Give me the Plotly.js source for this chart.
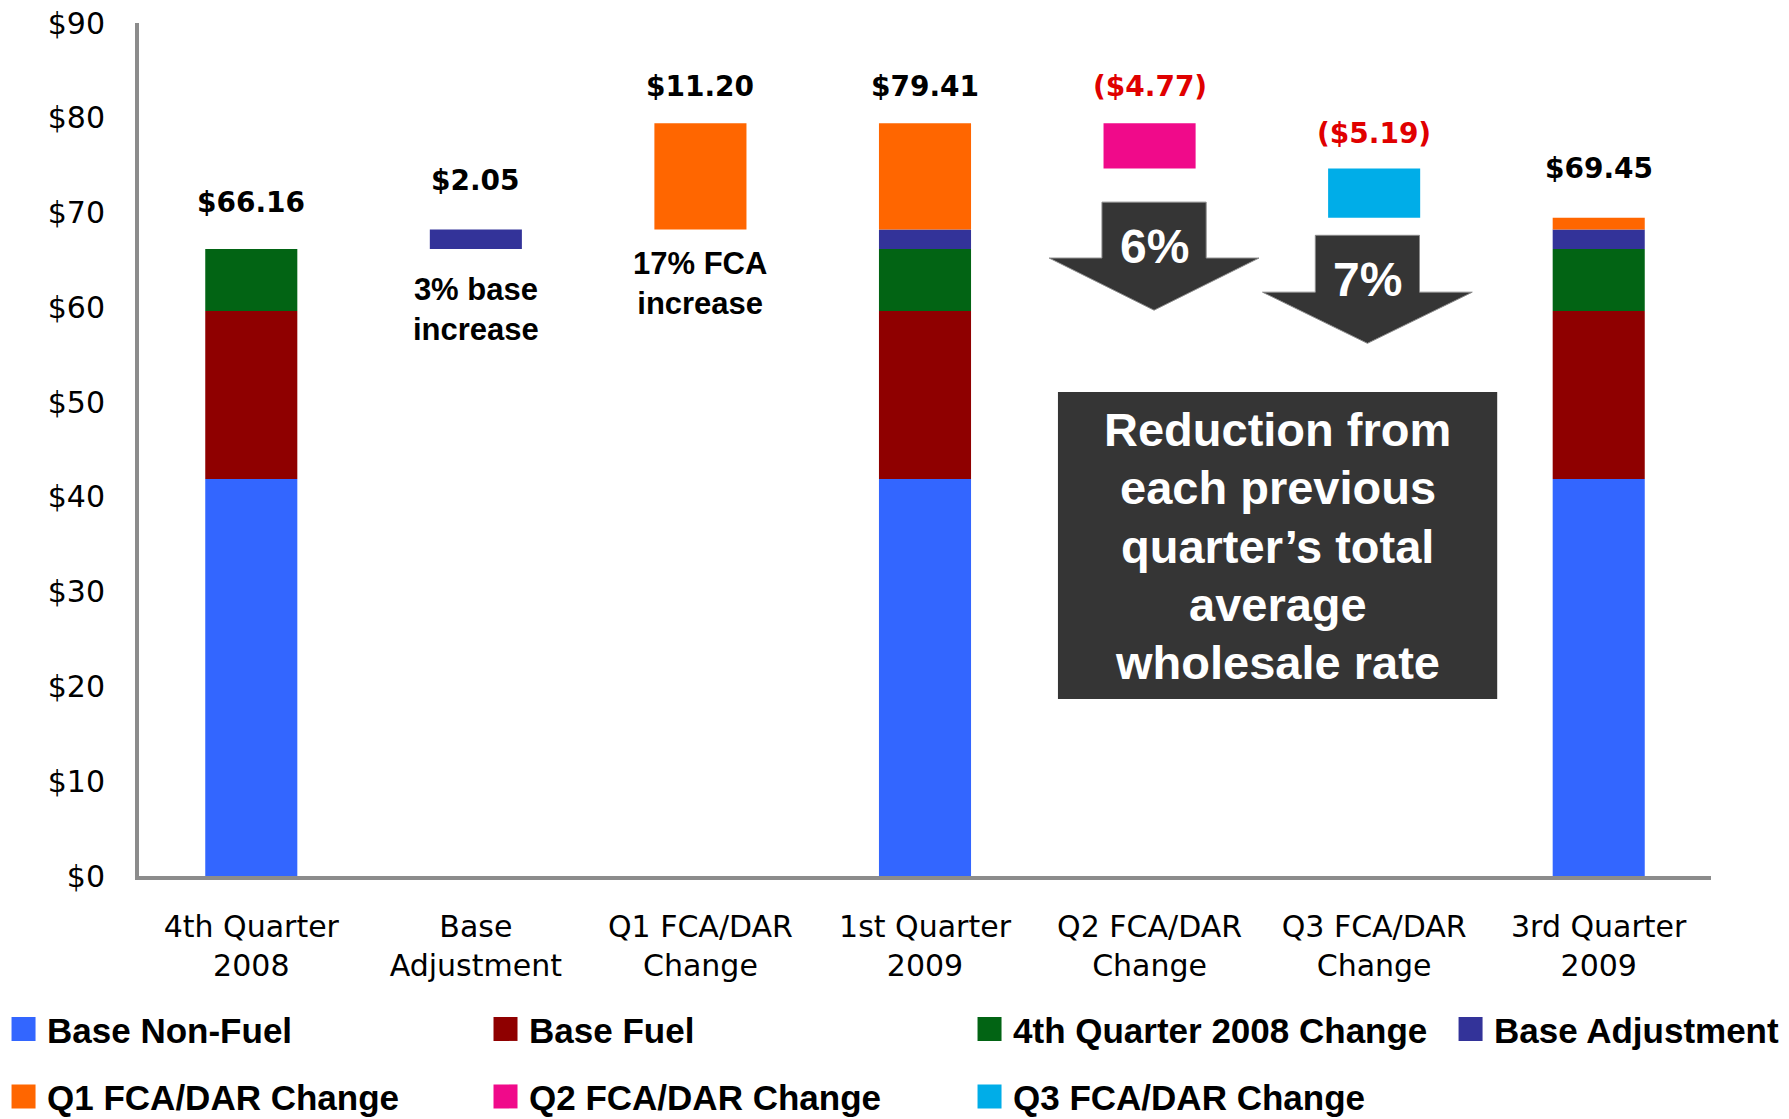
<!DOCTYPE html>
<html><head><meta charset="utf-8">
<script src="https://cdn.plot.ly/plotly-3.0.1.min.js"></script>
<style>
html,body{margin:0;padding:0;background:#fff;}
#chart{width:1789px;height:1119px;}
g.legendpoints path{transform:translate(23.5px,0px) scale(2) !important;}
</style></head><body><div id="chart"></div>
<script>
// ---- data ----
const categories = ["4th Quarter 2008", "Base Adjustment", "Q1 FCA/DAR Change", "1st Quarter 2009", "Q2 FCA/DAR Change", "Q3 FCA/DAR Change", "3rd Quarter 2009"];
const tickLabels = ["4th Quarter<br>2008", "Base<br>Adjustment", "Q1 FCA/DAR<br>Change", "1st Quarter<br>2009", "Q2 FCA/DAR<br>Change", "Q3 FCA/DAR<br>Change", "3rd Quarter<br>2009"];
const isTotal = [true, false, false, true, false, false, true];
const seriesNames = ["Base Non-Fuel", "Base Fuel", "4th Quarter 2008 Change", "Base Adjustment", "Q1 FCA/DAR Change", "Q2 FCA/DAR Change", "Q3 FCA/DAR Change"];
const baseNonFuel = [41.9, null, null, 41.9, null, null, 41.9];
const baseFuel    = [17.7, null, null, 17.7, null, null, 17.7];
const q4Change    = [6.56, null, null, 6.56, null, null, 6.56];
const baseAdj     = [null, 2.05, null, 2.05, null, null, 2.05];
const q1Fca       = [null, null, 11.20, 11.20, null, null, 1.24];
const q2Fca       = [null, null, null, null, -4.77, null, null];
const q3Fca       = [null, null, null, null, null, -5.19, null];
const seriesColors = ["#3366FF", "#8F0000", "#026414", "#333399", "#FF6600", "#F00A8A", "#00ADE8"];
const noteBase = "3% base<br>increase";
const noteFca = "17% FCA<br>increase";
const pctQ2 = "6%", pctQ3 = "7%";
const boxLines = ["Reduction from", "each previous", "quarter\u2019s total", "average", "wholesale rate"];

const series = [baseNonFuel, baseFuel, q4Change, baseAdj, q1Fca, q2Fca, q3Fca];
const legendOf = ["legend", "legend2", "legend3", "legend4", "legend", "legend2", "legend3"];
const xs = categories.map((c, i) => i);

// compute bases (waterfall / stacked)
const bases = series.map(() => categories.map(() => null));
const tops = [], deltas = [], ends = [];
let prevEnd = 0;
categories.forEach((c, i) => {
  let cursor = isTotal[i] ? 0 : prevEnd;
  const start = cursor;
  series.forEach((s, k) => {
    if (s[i] !== null) { bases[k][i] = cursor; cursor += s[i]; }
  });
  ends.push(cursor);
  deltas.push(cursor - start);
  tops.push(Math.max(start, cursor));
  prevEnd = cursor;
});

const traces = series.map((s, k) => ({
  type: "bar", x: xs, y: s, base: bases[k], width: 0.41,
  name: seriesNames[k], marker: {color: seriesColors[k], line: {width: 0}},
  legend: legendOf[k], legendgroup: seriesNames[k], hoverinfo: "skip"
}));

function fmt(v) {
  const a = "$" + Math.abs(v).toFixed(2);
  return v < 0 ? "(" + a + ")" : a;
}
const labelShift = [46, 49, 37, 37, 37, 35, 49];
const annotations = categories.map((c, i) => {
  const val = isTotal[i] ? ends[i] : deltas[i];
  return {
    x: i, y: tops[i], xref: "x", yref: "y", text: fmt(val), showarrow: false,
    yanchor: "middle", yshift: labelShift[i],
    font: {family: "DejaVu Sans", size: 28, weight: "bold", color: val < 0 ? "#E00000" : "#000000"}
  };
});
const noteFont = {family: "Liberation Sans, Arial", size: 31, weight: "bold", color: "#000"};
annotations.push({x: 1, y: 59.8, xref: "x", yref: "y", text: noteBase, showarrow: false, font: noteFont});
annotations.push({x: 2, y: 62.5, xref: "x", yref: "y", text: noteFca, showarrow: false, font: noteFont});
const whiteBig = {family: "Liberation Sans, Arial", size: 48, weight: "bold", color: "#fff"};
annotations.push({x: 4.02, y: 66.4, xref: "x", yref: "y", text: pctQ2, showarrow: false, font: whiteBig});
annotations.push({x: 4.97, y: 62.9, xref: "x", yref: "y", text: pctQ3, showarrow: false, font: whiteBig});
boxLines.forEach((t, j) => {
  annotations.push({x: 4.57, y: 34.8 + (2 - j) * 6.15, xref: "x", yref: "y", text: t, showarrow: false,
    yanchor: "middle", font: {family: "Liberation Sans, Arial", size: 47, weight: "bold", color: "#fff"}});
});

function arrowPath(cx, yTop, yShoulder, yTip) {
  const sh = 0.232, hh = 0.467;
  return `M${cx - sh},${yTop} L${cx + sh},${yTop} L${cx + sh},${yShoulder} L${cx + hh},${yShoulder} L${cx},${yTip} L${cx - hh},${yShoulder} L${cx - sh},${yShoulder} Z`;
}
const shapes = [
  {type: "path", xref: "x", yref: "y", path: arrowPath(4.02, 71.1, 65.2, 59.7), fillcolor: "#353535", line: {color: "#8a8a8a", width: 1}, layer: "above"},
  {type: "path", xref: "x", yref: "y", path: arrowPath(4.97, 67.6, 61.6, 56.2), fillcolor: "#353535", line: {color: "#8a8a8a", width: 1}, layer: "above"},
  {type: "rect", xref: "x", yref: "y", x0: 3.592, x1: 5.548, y0: 18.67, y1: 51.06, fillcolor: "#353535", line: {width: 0}, layer: "above"}
];

function leg(xp) {
  return {x: xp, y: -0.145, xref: "paper", yref: "paper", xanchor: "left", yanchor: "top", orientation: "v",
    bgcolor: "rgba(0,0,0,0)", borderwidth: 0, itemwidth: 37, tracegroupgap: 19, traceorder: "grouped",
    font: {family: "Liberation Sans, Arial", size: 35, weight: "bold", color: "#000"}};
}

const axisLine = "#8c8c8c";
const layout = {
  width: 1789, height: 1119,
  margin: {l: 139, r: 78, t: 23, b: 243, autoexpand: false},
  barmode: "overlay",
  paper_bgcolor: "#fff", plot_bgcolor: "#fff",
  font: {family: "DejaVu Sans", color: "#000"},
  showlegend: true,
  xaxis: {range: [-0.5, 6.5], tickmode: "array", tickvals: xs, ticktext: tickLabels,
    showline: true, linecolor: axisLine, linewidth: 4, showgrid: false, zeroline: false, ticks: "",
    tickfont: {family: "DejaVu Sans", size: 30, color: "#000"}, ticklabelstandoff: 21},
  yaxis: {range: [0, 90], dtick: 10, tick0: 0, tickprefix: "$", showline: true, linecolor: axisLine, linewidth: 4,
    showgrid: false, zeroline: false, ticks: "", tickfont: {family: "DejaVu Sans", size: 30, color: "#000"},
    ticklabelstandoff: 24},
  legend: leg(-0.0884), legend2: leg(0.2182), legend3: leg(0.5261), legend4: leg(0.8321),
  annotations: annotations, shapes: shapes
};
Plotly.newPlot("chart", traces, layout, {displayModeBar: false, staticPlot: true});
</script></body></html>
